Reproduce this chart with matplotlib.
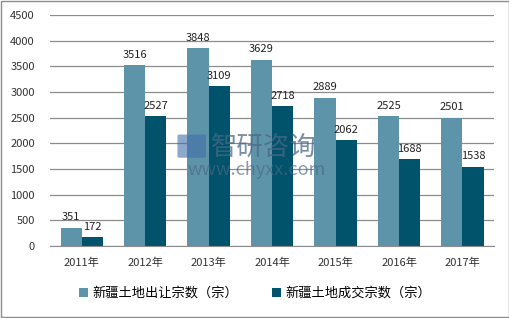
import matplotlib
matplotlib.use("Agg")
import matplotlib.pyplot as plt
from matplotlib.patches import Rectangle, FancyBboxPatch
import numpy as np

plt.rcParams['font.family'] = ['Noto Sans CJK SC', 'DejaVu Sans']

years = ["2011年", "2012年", "2013年", "2014年", "2015年", "2016年", "2017年"]
transfer = [351, 3516, 3848, 3629, 2889, 2525, 2501]
deals = [172, 2527, 3109, 2718, 2062, 1688, 1538]
series_names = ["新疆土地出让宗数（宗）", "新疆土地成交宗数（宗）"]
yticks = [0, 500, 1000, 1500, 2000, 2500, 3000, 3500, 4000, 4500]

c_light = "#5e94aa"
c_dark = "#00536b"

fig = plt.figure(figsize=(5.1, 3.18), dpi=100)
ax = fig.add_axes([0.098, 0.226, 0.871, 0.727])

x = np.arange(len(years))
w = 0.333
b1 = ax.bar(x - w/2, transfer, w, color=c_light, label=series_names[0])
b2 = ax.bar(x + w/2, deals, w, color=c_dark, label=series_names[1])

for rect, v in zip(b1, transfer):
    ax.text(rect.get_x() + rect.get_width()/2, v + 110, str(v), ha='center', va='bottom', fontsize=8, color='#222222')
for rect, v in zip(b2, deals):
    ax.text(rect.get_x() + rect.get_width()/2, v + 110, str(v), ha='center', va='bottom', fontsize=8, color='#222222')

ax.set_xlim(-0.5, len(years) - 0.5)
ax.set_ylim(0, 4500)
ax.set_yticks(yticks)
ax.set_yticklabels([str(t) for t in yticks], fontsize=8, color='#333333')
ax.set_xticks(x)
ax.set_xticklabels(years, fontsize=8, color='#333333')
ax.tick_params(axis='y', length=0, pad=11)
ax.tick_params(axis='x', length=0, pad=8)
ax.yaxis.grid(True, color='#8c8c8c', linewidth=0.9)
ax.set_axisbelow(True)
for s in ['top', 'right', 'left']:
    ax.spines[s].set_visible(False)
ax.spines['bottom'].set_color('#8c8c8c')

# watermark
wm_color = '#4a6785'
fig.text(0.413, 0.538, "智研咨询", fontsize=19, color=wm_color, alpha=0.75, ha='left', va='center')
fig.text(0.367, 0.465, "www.chyxx.com", fontsize=13, color=wm_color, alpha=0.65, ha='left', va='center')
fig.patches.append(FancyBboxPatch((0.352, 0.508), 0.048, 0.065, boxstyle="round,pad=0.004",
                                  transform=fig.transFigure, facecolor='#3f6fa8', alpha=0.6,
                                  edgecolor='none'))

leg = fig.legend(loc='lower center', bbox_to_anchor=(0.5, 0.02), ncol=2, frameon=False,
                 fontsize=9.5, handlelength=0.7, handleheight=0.7, handletextpad=0.3, columnspacing=2.6)

fig.patches.append(Rectangle((0.002, 0.003), 0.996, 0.994, transform=fig.transFigure,
                             fill=False, edgecolor='#8c8c8c', linewidth=1))

fig.savefig("out.png", dpi=100)
